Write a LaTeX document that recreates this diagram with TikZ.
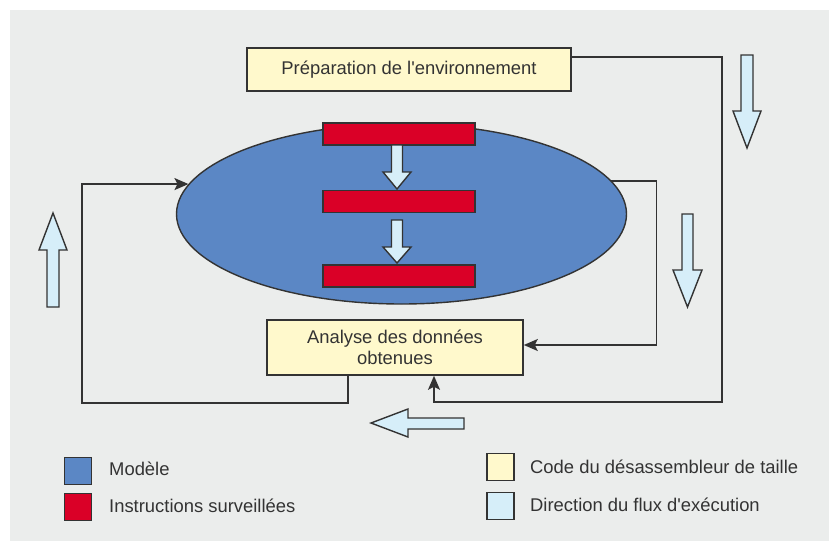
\documentclass[tikz,border=0pt]{standalone}
\usepackage{fontspec}
\setmainfont{Liberation Sans}
\usetikzlibrary{shapes.geometric,arrows.meta}
\definecolor{bggray}{HTML}{EBEDEC}
\definecolor{inkgray}{HTML}{333333}
\definecolor{codeyellow}{HTML}{FFF9CC}
\definecolor{modelblue}{HTML}{5B87C5}
\definecolor{instrred}{HTML}{DA0027}
\definecolor{flowblue}{HTML}{D6EEF9}
\tikzset{
	codebox/.style={draw=inkgray, line width=1.6pt, fill=codeyellow, rectangle, inner sep=0pt, text=inkgray, align=center},
	instr/.style={draw=inkgray, line width=1.4pt, fill=instrred, rectangle, inner sep=0pt, minimum width=152pt, minimum height=22pt},
	flow/.style={draw=inkgray, line width=1.4pt, fill=flowblue, line join=miter},
	link/.style={draw=inkgray, line width=1.6pt},
	key/.style={draw=inkgray, line width=1.6pt, rectangle, inner sep=0pt, minimum size=27pt},
	keytext/.style={anchor=west, inner sep=0pt, text=inkgray}
}
\begin{document}
\begin{tikzpicture}[x=1pt, y=-1pt, font=\fontsize{18.4}{21}\selectfont, >={Stealth[length=14pt,width=12pt,inset=3pt]}]
	\useasboundingbox (0,0) rectangle (829,541);
	\fill [bggray] (10,10) rectangle (829,541);
	\node [codebox, minimum width=324pt, minimum height=43pt] (prep) at (409,69.5) {Préparation de l\textquotesingle environnement};
	\node [draw=inkgray, line width=1.4pt, fill=modelblue, ellipse, inner sep=0pt, minimum width=450pt, minimum height=180pt] (model) at (401.5,214) {};
	\node [instr] (bar1) at (399,134) {};
	\node [instr] (bar2) at (399,201.5) {};
	\node [instr] (bar3) at (399,276) {};
	\node [codebox, minimum width=256pt, minimum height=55pt] (analyse) at (395,347.5) {Analyse des données\\obtenues};
	\draw [flow] (391.5,145) -- (402.5,145) -- (402.5,172) -- (411,172) -- (397,189) -- (383,172) -- (391.5,172) -- cycle;
	\draw [flow] (391.5,220) -- (402.5,220) -- (402.5,247) -- (411,247) -- (397,263) -- (383,247) -- (391.5,247) -- cycle;
	\draw [link, ->] ([yshift=12.5pt]prep.east) -| ++(150,345) -| ([xshift=39pt]analyse.south);
	\draw [link, ->] (model.9) -- ++(45,0) |- ([yshift=2.5pt]analyse.east);
	\draw [link, ->] ([xshift=-47pt]analyse.south) |- ++(-266,27) |- (model.172);
	\draw [flow] (741,55) -- (753,55) -- (753,111) -- (761,111) -- (747,148) -- (733,111) -- (741,111) -- cycle;
	\draw [flow] (682,214) -- (693,214) -- (693,270) -- (702,270) -- (687.5,307) -- (673,270) -- (682,270) -- cycle;
	\draw [flow] (47,307) -- (59,307) -- (59,250) -- (67,250) -- (53,213) -- (39,250) -- (47,250) -- cycle;
	\draw [flow] (464,418) -- (464,429) -- (408,429) -- (408,437) -- (371,423) -- (408,409) -- (408,418) -- cycle;
	\node [key, fill=modelblue] (keymodel) at (78,471) {};
	\node [key, fill=instrred] (keyinstr) at (78,507) {};
	\node [key, fill=codeyellow] (keycode) at (500.5,467) {};
	\node [key, fill=flowblue] (keyflow) at (500.5,506) {};
	\node [keytext] (txtmodel) at (109,469) {Modèle};
	\node [keytext] (txtinstr) at (109,506) {Instructions surveillées};
	\node [keytext] (txtcode) at (530,467) {Code du désassembleur de taille};
	\node [keytext] (txtflow) at (530,505) {Direction du flux d\textquotesingle exécution};
\end{tikzpicture}
\end{document}
